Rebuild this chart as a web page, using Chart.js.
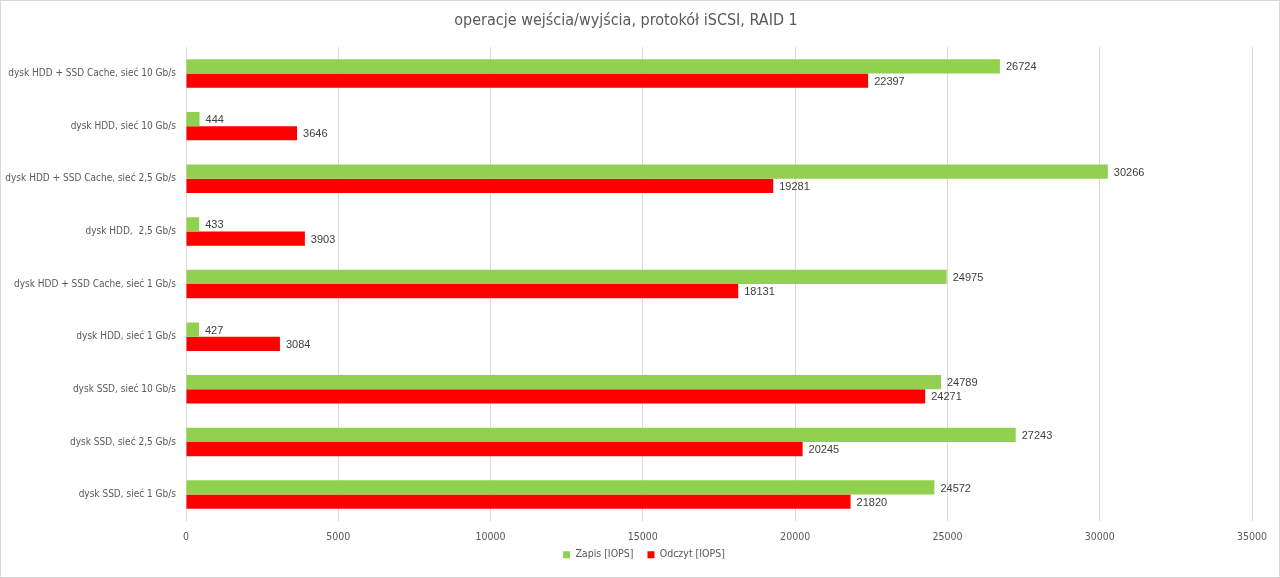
<!DOCTYPE html>
<html>
<head>
<meta charset="utf-8">
<script src="https://cdn.jsdelivr.net/npm/chart.js@4"></script>
<style>
html,body{margin:0;padding:0;background:#fff;}
#wrap{width:1280px;height:578px;position:relative;}
</style>
</head>
<body>
<div id="wrap"><canvas id="c" width="1280" height="578"></canvas></div>
<script>
const categories = [
  "dysk HDD + SSD Cache, sieć 10 Gb/s",
  "dysk HDD, sieć 10 Gb/s",
  "dysk HDD + SSD Cache, sieć 2,5 Gb/s",
  "dysk HDD,  2,5 Gb/s",
  "dysk HDD + SSD Cache, sieć 1 Gb/s",
  "dysk HDD, sieć 1 Gb/s",
  "dysk SSD, sieć 10 Gb/s",
  "dysk SSD, sieć 2,5 Gb/s",
  "dysk SSD, sieć 1 Gb/s"
];
const zapis = [26724, 444, 30266, 433, 24975, 427, 24789, 27243, 24572];
const odczyt = [22397, 3646, 19281, 3903, 18131, 3084, 24271, 20245, 21820];
const seriesNames = ["Zapis [IOPS]", "Odczyt [IOPS]"];
const xTicks = [0, 5000, 10000, 15000, 20000, 25000, 30000, 35000];
const titleText = "operacje wejścia/wyjścia, protokół iSCSI, RAID 1";

const narrow = '"Liberation Sans Narrow", "DejaVu Sans Condensed", "Liberation Sans", Arial, sans-serif';

const bgPlugin = {
  id: 'bg',
  beforeDraw(chart) {
    const ctx = chart.ctx;
    ctx.save();
    ctx.fillStyle = '#fff';
    ctx.fillRect(0, 0, chart.width, chart.height);
    ctx.strokeStyle = '#d9d9d9';
    ctx.lineWidth = 1;
    ctx.strokeRect(0.5, 0.5, chart.width - 1, chart.height - 1);
    ctx.restore();
  }
};

const LEGEND_SHRINK = 10;
const LEGEND_SHIFT = 18;
const LEGEND_XSHIFT = 18;
const legendTweak = {
  id: 'legendTweak',
  beforeLayout(chart) {
    const lg = chart.legend;
    if (lg && !lg.__patched) {
      const orig = lg.fit;
      lg.fit = function () { orig.call(this); this.height = Math.max(0, this.height - LEGEND_SHRINK); };
      lg.__patched = true;
    }
  },
  afterLayout(chart) {
    const lg = chart.legend;
    if (lg) {
      lg.top -= LEGEND_SHIFT; lg.bottom = chart.height;
      lg.left += LEGEND_XSHIFT; lg.right += LEGEND_XSHIFT;
    }
  }
};

const labelPlugin = {
  id: 'valLabels',
  afterDatasetsDraw(chart) {
    const ctx = chart.ctx;
    ctx.save();
    ctx.font = '11px "Liberation Sans", Arial, sans-serif';
    ctx.fillStyle = '#404040';
    ctx.textAlign = 'left';
    ctx.textBaseline = 'middle';
    chart.data.datasets.forEach((ds, i) => {
      const meta = chart.getDatasetMeta(i);
      meta.data.forEach((bar, j) => {
        ctx.fillText(String(ds.data[j]), bar.x + 6, bar.y + 1);
      });
    });
    ctx.restore();
  }
};

new Chart(document.getElementById('c'), {
  type: 'bar',
  data: {
    labels: categories,
    datasets: [
      { label: seriesNames[0], data: zapis, backgroundColor: '#92D050', borderWidth: 0 },
      { label: seriesNames[1], data: odczyt, backgroundColor: '#FF0000', borderWidth: 0 }
    ]
  },
  options: {
    indexAxis: 'y',
    responsive: false,
    animation: false,
    categoryPercentage: 0.54,
    barPercentage: 1.0,
    layout: { padding: { left: 0, right: 28, top: 0, bottom: 0 } },
    scales: {
      x: {
        min: 0, max: 35000,
        afterBuildTicks(scale) { scale.ticks = xTicks.map(v => ({ value: v })); },
        grid: { color: '#d9d9d9', drawTicks: false },
        border: { display: false },
        ticks: {
          color: '#595959', font: { size: 10.5, family: narrow }, padding: 10, maxRotation: 0,
          callback: (v) => String(v)
        }
      },
      y: {
        grid: { display: false, drawTicks: false },
        border: { display: false },
        ticks: { color: '#595959', font: { size: 10, family: narrow }, padding: 10 },
        afterFit(scale) { scale.width = 186; }
      }
    },
    plugins: {
      title: {
        display: true, text: titleText, color: '#595959',
        font: { size: 16, weight: 'normal', family: narrow },
        padding: { top: 11, bottom: 17 }
      },
      legend: {
        position: 'bottom',
        labels: { color: '#595959', boxWidth: 7, boxHeight: 7, padding: 14, font: { size: 10.5, family: narrow } }
      },
      tooltip: { enabled: false }
    }
  },
  plugins: [bgPlugin, legendTweak, labelPlugin]
});
</script>
</body>
</html>
